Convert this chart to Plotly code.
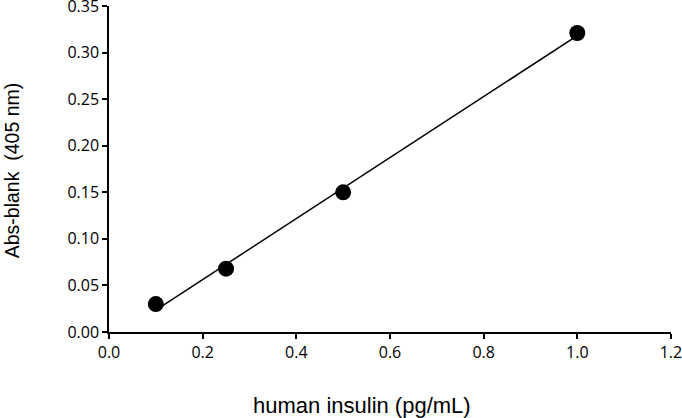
import numpy as np
import plotly.graph_objects as go

concentration = [0.1, 0.25, 0.5, 1.0]
absorbance = [0.030, 0.068, 0.150, 0.321]
x_ticks = [0.0, 0.2, 0.4, 0.6, 0.8, 1.0, 1.2]
y_ticks = [0.0, 0.05, 0.10, 0.15, 0.20, 0.25, 0.30, 0.35]
x_title = "human insulin (pg/mL)"
y_title = "Abs-blank  (405 nm)"

slope, intercept = np.polyfit(concentration, absorbance, 1)
fit_x = [min(concentration), max(concentration)]
fit_y = [slope * v + intercept for v in fit_x]

fig = go.Figure()
fig.add_trace(go.Scatter(x=fit_x, y=fit_y, mode="lines",
                         line=dict(color="black", width=1.5), showlegend=False, hoverinfo="skip"))
fig.add_trace(go.Scatter(x=concentration, y=absorbance, mode="markers",
                         marker=dict(color="black", size=16), showlegend=False, cliponaxis=False))

tick_font = "Open Sans, Liberation Sans, sans-serif"
title_font = "Liberation Sans, Arial, sans-serif"
fig.update_layout(
    width=682, height=418,
    margin=dict(l=109, r=11, t=6, b=86, autoexpand=False),
    paper_bgcolor="white", plot_bgcolor="white",
    font=dict(family=tick_font, size=16, color="black"),
    annotations=[
        dict(text=x_title, xref="paper", yref="paper", x=0.45, y=-0.224,
             xanchor="center", yanchor="middle", showarrow=False,
             font=dict(family=title_font, size=22, color="black")),
        dict(text=y_title, xref="paper", yref="paper", x=-0.172, y=0.497,
             xanchor="center", yanchor="middle", showarrow=False, textangle=-90,
             font=dict(family=title_font, size=19.5, color="black")),
    ],
)
fig.update_xaxes(
    range=[0, 1.2001], tickvals=x_ticks, ticktext=[f"{v:.1f}" for v in x_ticks],
    showline=True, linecolor="black", linewidth=1.5, ticks="outside", ticklen=5,
    tickcolor="black", tickwidth=1.5, showgrid=False, zeroline=False, automargin=False,
    tickfont=dict(size=16), ticklabeloverflow="allow",
)
fig.update_yaxes(
    range=[0, 0.35001], tickvals=y_ticks, ticktext=[f"{v:.2f}" for v in y_ticks],
    showline=True, linecolor="black", linewidth=1.5, ticks="outside", ticklen=5,
    tickcolor="black", tickwidth=1.5, showgrid=False, zeroline=False, automargin=False,
    tickfont=dict(size=16), ticklabeloverflow="allow",
)
fig.write_html("out.html", config={"displayModeBar": False},
               post_script="document.body.style.margin='0';document.body.style.overflow='hidden';")
